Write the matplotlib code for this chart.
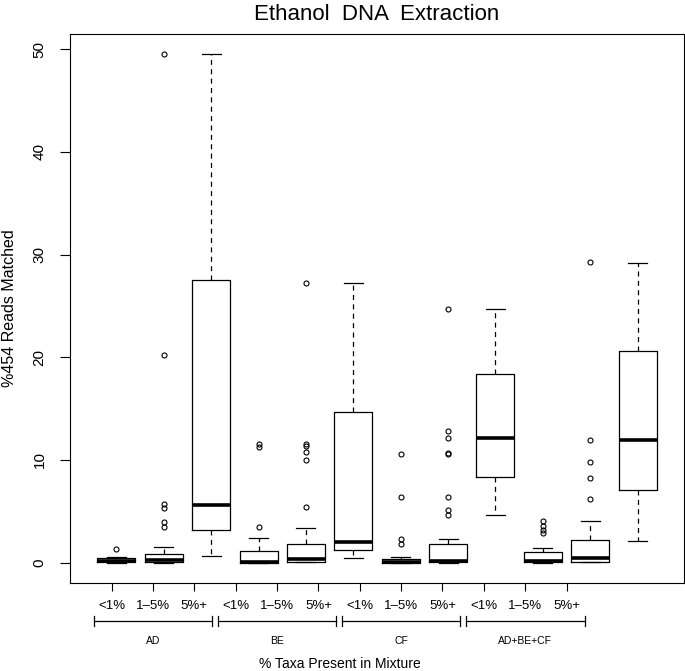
import numpy as np
import matplotlib
matplotlib.use("Agg")
import matplotlib.pyplot as plt

# === DADOS ===
categorias = ["<1%", "1–5%", "5%+"]
grupos = ["AD", "BE", "CF", "AD+BE+CF"]

whislo = [0.0, 0.0, 0.65, 0.0, 0.05, 0.5, 0.0, 0.0, 4.6, 0.0, 0.05, 2.1]
q1 = [0.05, 0.07, 3.15, 0.0, 0.1, 1.24, 0.0, 0.07, 8.35, 0.07, 0.1, 7.05]
med = [0.15, 0.23, 5.6, 0.1, 0.33, 2.0, 0.1, 0.17, 12.1, 0.2, 0.5, 11.95]
q3 = [0.5, 0.88, 27.5, 1.14, 1.86, 14.7, 0.33, 1.8, 18.4, 1.08, 2.2, 20.6]
whishi = [0.6, 1.57, 49.5, 2.4, 3.4, 27.2, 0.55, 2.3, 24.7, 1.4, 4.1, 29.2]
outliers = [
    [1.3],
    [3.5, 4.0, 5.3, 5.7, 20.2, 49.5],
    [],
    [3.5, 11.3, 11.6],
    [5.4, 10.0, 10.8, 11.4, 11.6, 27.2],
    [],
    [1.85, 2.3, 6.4, 10.6],
    [4.6, 5.1, 6.4, 10.6, 10.7, 12.1, 12.8, 24.7],
    [],
    [2.9, 3.2, 3.6, 4.1],
    [6.2, 8.25, 9.85, 11.95, 29.3],
    [],
]

plt.rcParams.update({
    "font.family": ["Liberation Sans", "DejaVu Sans"],
    "axes.linewidth": 0.8,
})

stats = []
for i in range(len(med)):
    stats.append({
        "whislo": whislo[i], "q1": q1[i], "med": med[i],
        "q3": q3[i], "whishi": whishi[i], "fliers": outliers[i],
    })

fig = plt.figure(figsize=(6.85, 6.71), dpi=100)
ax = fig.add_axes([70 / 685, 88 / 671, 614 / 685, 549 / 671])

pos = np.arange(1, len(med) + 1)
ax.bxp(stats, positions=pos, widths=0.8, patch_artist=False,
       boxprops=dict(color="black", linewidth=0.9),
       medianprops=dict(color="black", linewidth=2.6, solid_capstyle="butt"),
       whiskerprops=dict(color="black", linewidth=0.9, linestyle=(0, (4, 3.5))),
       capprops=dict(color="black", linewidth=0.9),
       capwidths=0.4,
       flierprops=dict(marker="o", markersize=3.6, markerfacecolor="none",
                       markeredgecolor="black", markeredgewidth=0.8))

ax.set_xlim(0.02, 12.98)
ax.set_ylim(-1.98, 51.48)

# eixos no estilo R (ticks deslocados como no original)
tick_pos = np.linspace(0.9, 10.5, 12)
ax.set_xticks(tick_pos)
ax.set_xticklabels(categorias * len(grupos), fontsize=9.5)
ax.set_yticks([0, 10, 20, 30, 40, 50])
ax.set_yticklabels(["0", "10", "20", "30", "40", "50"], fontsize=11,
                   rotation=90, va="center")
ax.tick_params(axis="x", length=6, width=0.8, pad=6)
ax.tick_params(axis="y", length=7, width=0.8, pad=10)

# chaves dos grupos
trans = ax.get_xaxis_transform()
for g in range(len(grupos)):
    x0 = tick_pos[3 * g] - 0.38
    x1 = tick_pos[3 * g + 2] + 0.38
    yb = -0.0692
    ax.plot([x0, x1], [yb, yb], color="black", lw=0.9, transform=trans, clip_on=False)
    for xx in (x0, x1):
        ax.plot([xx, xx], [yb - 0.009, yb + 0.009], color="black", lw=0.9,
                transform=trans, clip_on=False)
    ax.text((x0 + x1) / 2, -0.1056, grupos[g], transform=trans, ha="center",
            va="center", fontsize=7.5)

ax.set_title("Ethanol  DNA  Extraction", fontsize=16, pad=10)
fig.text(10 / 685, (671 - 308) / 671, "%454 Reads Matched", rotation=90,
         ha="center", va="center", fontsize=11.5)
fig.text(340 / 685, 7 / 671, "% Taxa Present in Mixture", ha="center",
         va="center", fontsize=10)

fig.savefig("out.png", dpi=100)
plt.close(fig)
